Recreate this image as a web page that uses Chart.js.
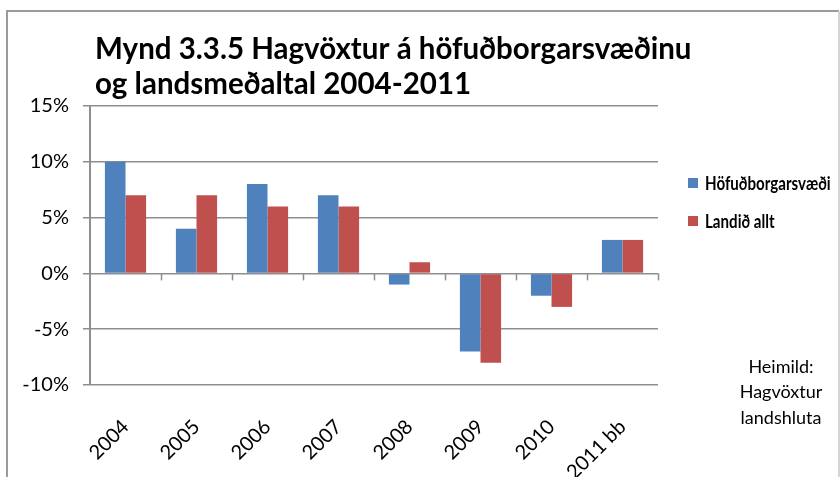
<!DOCTYPE html>
<html>
<head>
<meta charset="utf-8">
<script src="https://cdn.jsdelivr.net/npm/chart.js@4.4.0/dist/chart.umd.min.js"></script>
<style>
  html, body { margin: 0; padding: 0; background: #fff; }
  #wrap { width: 840px; height: 477px; position: relative; }
</style>
</head>
<body>
<div id="wrap"><canvas id="barChart"></canvas></div>
<script>
// Hagvöxtur, % á ári
const categories = ['2004', '2005', '2006', '2007', '2008', '2009', '2010', '2011 bb'];
const hofudborgarsvaedi = [10, 4, 8, 7, -1, -7, -2, 3];
const landidAllt = [7, 7, 6, 6, 1, -8, -3, 3];
const yMin = -10, yMax = 15, yStep = 5;

const seriesNames = ['Höfuðborgarsvæði', 'Landið allt'];
const seriesColors = ['#4F81BD', '#C0504D'];
const titleLines = ['Mynd 3.3.5 Hagvöxtur á höfuðborgarsvæðinu', 'og landsmeðaltal 2004-2011'];
const sourceLines = ['Heimild:', 'Hagvöxtur', 'landshluta'];

const FONT = 'Lato, "Open Sans", sans-serif';
const GRID = '#8e8e8e';

// ramminn, titill, skýringar, heimild og merki á núlllínunni
const extras = {
  id: 'extras',
  afterDraw(chart) {
    const ctx = chart.ctx;
    const area = chart.chartArea;
    const y = chart.scales.y;
    ctx.save();

    // rammi
    ctx.lineWidth = 2;
    ctx.strokeStyle = '#9a9a9a';
    ctx.beginPath();
    ctx.moveTo(7, 477);
    ctx.lineTo(7, 11);
    ctx.lineTo(839, 11);
    ctx.stroke();
    ctx.strokeStyle = '#d4d4d4';
    ctx.beginPath();
    ctx.moveTo(839, 11);
    ctx.lineTo(839, 477);
    ctx.stroke();

    // merki niður frá núlllínu á mörkum flokka
    const y0 = y.getPixelForValue(0);
    const step = (area.right - area.left) / categories.length;
    ctx.strokeStyle = GRID;
    ctx.lineWidth = 1.5;
    for (let i = 1; i <= categories.length; i++) {
      const px = Math.round(area.left + i * step) + 0.5;
      ctx.beginPath();
      ctx.moveTo(px, y0);
      ctx.lineTo(px, y0 + 7);
      ctx.stroke();
    }

    // titill
    ctx.fillStyle = '#000';
    ctx.textAlign = 'left';
    ctx.textBaseline = 'alphabetic';
    ctx.font = 'bold 29.5px ' + FONT;
    ctx.fillText(titleLines[0], 95, 59);
    ctx.fillText(titleLines[1], 95, 94);

    // skýringar (þjappað letur)
    ctx.font = 'bold 18px ' + FONT;
    ctx.textBaseline = 'middle';
    seriesNames.forEach((name, i) => {
      const ly = 183 + i * 38;
      ctx.fillStyle = seriesColors[i];
      ctx.fillRect(688, ly - 5, 10, 10);
      ctx.fillStyle = '#000';
      ctx.save();
      ctx.translate(705, ly + 1);
      ctx.scale(0.84, 1);
      ctx.fillText(name, 0, 0);
      ctx.restore();
    });

    // heimild
    ctx.font = '18px ' + FONT;
    ctx.textAlign = 'center';
    sourceLines.forEach((line, i) => {
      ctx.fillText(line, 781, 367 + i * 25.5);
    });

    ctx.restore();
  }
};

new Chart(document.querySelector('#barChart'), {
  type: 'bar',
  data: {
    labels: categories,
    datasets: [{
      label: seriesNames[0],
      data: hofudborgarsvaedi,
      backgroundColor: seriesColors[0]
    }, {
      label: seriesNames[1],
      data: landidAllt,
      backgroundColor: seriesColors[1]
    }]
  },
  options: {
    responsive: true,
    maintainAspectRatio: false,
    animation: false,
    datasets: {
      bar: { barPercentage: 1, categoryPercentage: 0.58 }
    },
    layout: { padding: { left: 10, top: 106, right: 182, bottom: 0 } },
    plugins: {
      legend: { display: false },
      title: { display: false },
      tooltip: { enabled: false }
    },
    scales: {
      x: {
        grid: { display: false, drawTicks: false },
        border: { display: false },
        ticks: {
          color: '#000',
          font: { family: FONT, size: 20 },
          minRotation: 45,
          maxRotation: 45,
          autoSkip: false,
          padding: 30
        },
        afterFit(scale) { scale.height = 92; }
      },
      y: {
        min: yMin,
        max: yMax,
        grid: { color: GRID, lineWidth: 1.5, tickLength: 7 },
        border: { display: true, color: GRID, width: 2 },
        ticks: {
          stepSize: yStep,
          color: '#000',
          padding: 14,
          font: { family: FONT, size: 20 },
          callback: v => v + '%'
        },
        afterFit(scale) { scale.width = 80; }
      }
    }
  },
  plugins: [extras]
});
</script>
</body>
</html>
